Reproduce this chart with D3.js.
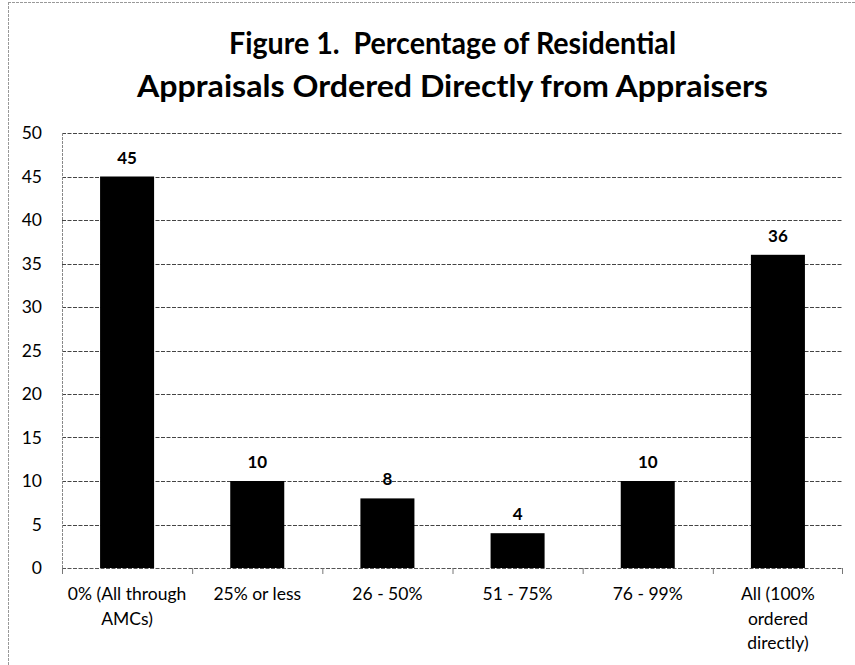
<!DOCTYPE html>
<html><head><meta charset="utf-8">
<script src="https://cdn.jsdelivr.net/npm/d3@7"></script>
<style>body{margin:0;background:#fff}svg{display:block}text{white-space:pre}</style>
</head><body>
<script>
const categories = [["0% (All through","AMCs)"],["25% or less"],["26 - 50%"],["51 - 75%"],["76 - 99%"],["All (100%","ordered","directly)"]];
const values = [45, 10, 8, 4, 10, 36];
const yTicks = [0,5,10,15,20,25,30,35,40,45,50];
const titleLines = ["Figure 1.  Percentage of Residential","Appraisals Ordered Directly from Appraisers"];

const W = 855, H = 665;
const m = {left:62, right:12, top:133, bottom:97};
const svg = d3.select("body").append("svg").attr("width",W).attr("height",H);
const font = "Lato, 'Open Sans', sans-serif";

// outer border
svg.append("line").attr("x1",8).attr("x2",W).attr("y1",2.5).attr("y2",2.5).attr("stroke","#999").attr("stroke-dasharray","3,1");
svg.append("line").attr("x1",8.5).attr("x2",8.5).attr("y1",2).attr("y2",H).attr("stroke","#999").attr("stroke-dasharray","3,1");

const x = d3.scaleBand().domain(d3.range(categories.length)).range([m.left, W-m.right]).paddingInner(0.585).paddingOuter(0.2925);
const xb = d3.scaleBand().domain(d3.range(categories.length)).range([m.left, W-m.right]);
const y = d3.scaleLinear().domain([0,50]).range([H-m.bottom, m.top]);

// title
const tw = [447, 631];
titleLines.forEach((t,i)=>{
  svg.append("text").attr("x",(m.left+W-m.right)/2).attr("y",54+i*43)
    .attr("text-anchor","middle").attr("font-family",font).attr("font-weight","bold")
    .attr("font-size",29.5).attr("textLength",tw[i]).attr("lengthAdjust","spacingAndGlyphs").text(t);
});

// gridlines
svg.append("g").selectAll("line").data(yTicks.filter(d=>d>0)).join("line")
  .attr("x1",m.left).attr("x2",W-m.right).attr("y1",d=>Math.round(y(d))+0.5).attr("y2",d=>Math.round(y(d))+0.5)
  .attr("stroke","#444").attr("stroke-width",1).attr("stroke-dasharray","4,1.5");

// y axis
const ya = svg.append("g").attr("transform",`translate(${m.left},0)`)
  .call(d3.axisLeft(y).tickValues(yTicks).tickSize(0).tickPadding(20));
ya.select(".domain").attr("stroke","#888").attr("stroke-dasharray","3,1").attr("d",`M0.5,${m.top}V${y(0)}`);
ya.selectAll("text").attr("font-family",font).attr("font-size",17.5).attr("fill","#000");

// bars
svg.append("g").selectAll("rect").data(values).join("rect")
  .attr("x",(d,i)=>x(i)).attr("width",x.bandwidth()).attr("y",d=>y(d)).attr("height",d=>y(0)-y(d)).attr("fill","#000");

// x axis
const xa = svg.append("g").attr("transform",`translate(0,${y(0)})`)
  .call(d3.axisBottom(xb).tickSize(0).tickFormat(""));
xa.select(".domain").attr("stroke","#555").attr("stroke-dasharray","4,1.5").attr("d",`M${m.left},0.5H${W-m.right}`);
svg.append("g").selectAll("line").data(d3.range(categories.length+1)).join("line")
  .attr("x1",i=>i<categories.length? xb(i)+0.5 : W-m.right-0.5).attr("x2",i=>i<categories.length? xb(i)+0.5 : W-m.right-0.5)
  .attr("y1",y(0)).attr("y2",y(0)+6).attr("stroke","#777");

// category labels
categories.forEach((lines,i)=>{
  lines.forEach((t,j)=>{
    svg.append("text").attr("x",xb(i)+xb.bandwidth()/2).attr("y",600+j*24.5)
      .attr("text-anchor","middle").attr("font-family",font).attr("font-size",17.5).text(t);
  });
});

// value labels
svg.append("g").selectAll("text").data(values).join("text")
  .attr("x",(d,i)=>x(i)+x.bandwidth()/2).attr("y",d=>y(d)-13)
  .attr("text-anchor","middle").attr("font-family",font).attr("font-weight","bold").attr("font-size",17).text(d=>d);
</script>
</body></html>
